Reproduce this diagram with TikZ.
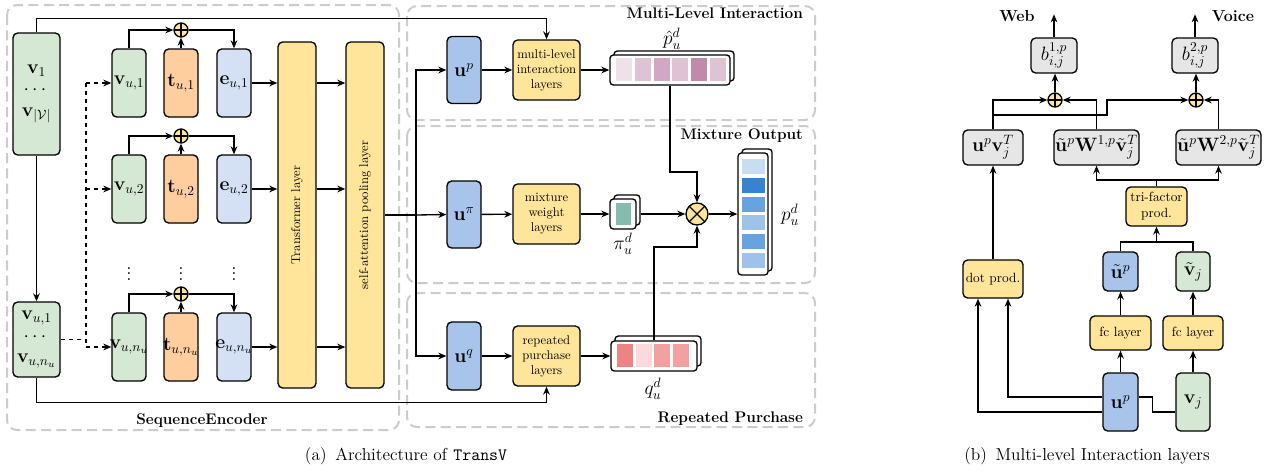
\RequirePackage{fix-cm}
\documentclass[tikz,border=0pt]{standalone}
\usepackage{amsmath,amssymb}
\usetikzlibrary{arrows.meta}

\definecolor{cgreen}{HTML}{D5E8D4}
\definecolor{corange}{HTML}{FFCE9F}
\definecolor{clblue}{HTML}{D4E1F5}
\definecolor{cyellow}{HTML}{FFE599}
\definecolor{cblue}{HTML}{A9C4EB}
\definecolor{cgray}{HTML}{E6E6E6}
\definecolor{cframe}{HTML}{CCCCCC}
% cell colours
\definecolor{pk1}{HTML}{EFE1EA}
\definecolor{pk2}{HTML}{DFC2D4}
\definecolor{pk3}{HTML}{D2A7C1}
\definecolor{pk4}{HTML}{C18AAB}
\definecolor{tl1}{HTML}{86BBB0}
\definecolor{bl1}{HTML}{C7DEF2}
\definecolor{bl2}{HTML}{3584D4}
\definecolor{bl3}{HTML}{66A3E0}
\definecolor{bl4}{HTML}{9DC3EB}
\definecolor{rd1}{HTML}{EE8383}
\definecolor{rd2}{HTML}{FBDADB}
\definecolor{rd3}{HTML}{F2A1A1}

\tikzset{
  blk/.style={draw, line width=1pt, rounded corners=3.5pt, align=center, inner sep=0pt,
    font=\fontsize{14.5}{16}\selectfont},
  lyr/.style={blk, fill=cyellow, font=\fontsize{9.5}{11.3}\selectfont},
  lyrb/.style={lyr, font=\fontsize{10}{12}\selectfont},
  stk/.style={draw, fill=white, line width=1pt, rounded corners=2.5pt, inner sep=0pt},
  grp/.style={draw=cframe, line width=1.5pt, dash pattern=on 7.5pt off 4pt, rounded corners=7.5pt},
  ttl/.style={font=\fontsize{11.5}{13}\selectfont\bfseries},
  lbl/.style={font=\fontsize{14.5}{16}\selectfont},
  sumop/.style={circle, draw, fill=cyellow, minimum size=10.5pt, inner sep=0pt,
    path picture={\draw (path picture bounding box.north) -- (path picture bounding box.south)
      (path picture bounding box.west) -- (path picture bounding box.east);}},
  mulop/.style={circle, draw, fill=cyellow, minimum size=16.5pt, inner sep=0pt,
    path picture={\draw (path picture bounding box.north west) -- (path picture bounding box.south east)
      (path picture bounding box.north east) -- (path picture bounding box.south west);}},
}

\begin{document}
\begin{tikzpicture}[x=0.75pt, y=-0.75pt, line width=1pt, >={Stealth[length=6pt,width=5pt]}]
  \useasboundingbox (0,0) rectangle (1269,472);
  % group frames
  \draw[grp] (7,5) rectangle (399,430);
  \draw[grp] (407,6) rectangle (815,120);
  \draw[grp] (407,126) rectangle (815,283);
  \draw[grp] (407,293) rectangle (815,427);
  \node[ttl, anchor=base] at (202,424) {SequenceEncoder};
  \node[ttl, anchor=base east] at (808,18) {Multi-Level Interaction};
  \node[ttl, anchor=base east] at (808,139) {Mixture Output};
  \node[ttl, anchor=base east] at (808,422) {Repeated Purchase};

  % sequence encoder
  \node[blk, fill=cgreen, minimum width=35.25pt, minimum height=91.5pt] (vall) at (36.5,94)
    {$\mathbf{v}_1$\\$\cdots$\\$\mathbf{v}_{|\mathcal{V}|}$};
  \node[blk, fill=cgreen, minimum width=35.25pt, minimum height=56.25pt] (vseq) at (36.5,339.5)
    {$\mathbf{v}_{u,1}$\\$\cdots$\\$\mathbf{v}_{u,n_u}$};
  \node[lyr, minimum width=28.5pt, minimum height=259.5pt] (tfm) at (297,215) {};
  \node[rotate=90, font=\fontsize{9.5}{11}\selectfont] at (tfm.center) {Transformer layer};
  \node[lyr, minimum width=28.5pt, minimum height=259.5pt] (pool) at (365,215) {};
  \node[rotate=90, font=\fontsize{9.5}{11}\selectfont] at (pool.center) {self-attention pooling layer};

  \foreach \r/\y/\s in {1/83/1, 2/189/2, 3/347/n_u} {
    \node[blk, fill=cgreen, minimum width=25.5pt, minimum height=51pt] (v\r) at (129,\y) {\makebox[0pt]{$\mathbf{v}_{u,\s}$}};
    \node[blk, fill=corange, minimum width=25.5pt, minimum height=51pt] (t\r) at (181,\y) {\makebox[0pt]{$\mathbf{t}_{u,\s}$}};
    \node[blk, fill=clblue, minimum width=25.5pt, minimum height=51pt] (e\r) at (234,\y) {\makebox[0pt]{$\mathbf{e}_{u,\s}$}};
    \node[sumop] (s\r) at (181,\y-53) {};
    \draw[->] (v\r.north) |- (s\r.west);
    \draw[->] (t\r.north) -- (s\r.south);
    \draw[->] (s\r.east) -| (e\r.north);
    \draw[->] (e\r.east) -- (tfm.west |- e\r.east);
    \draw[->] (tfm.east |- e\r.east) -- (pool.west |- e\r.east);
  }
  \node[lbl] at (129,270) {$\vdots$};
  \node[lbl] at (181,270) {$\vdots$};
  \node[lbl] at (234,270) {$\vdots$};

  \draw[->] (vall.south) -- (vseq.north);
  \coordinate (dv) at (86,339.5);
  \draw[dashed] (vseq.east) -- (dv);
  \draw[dashed] (dv |- v1.west) -- (dv |- v3.west);
  \draw[dashed,->] (dv |- v1.west) -- (v1.west);
  \draw[dashed,->] (dv |- v2.west) -- (v2.west);
  \draw[dashed,->] (dv |- v3.west) -- (v3.west);

  % heads
  \node[blk, fill=cblue, minimum width=25.5pt, minimum height=50.25pt] (up) at (464,70) {$\mathbf{u}^p$};
  \node[blk, fill=cblue, minimum width=25.5pt, minimum height=50.25pt] (upi) at (464,214.5) {$\mathbf{u}^\pi$};
  \node[blk, fill=cblue, minimum width=25.5pt, minimum height=51pt] (uq) at (464,356) {$\mathbf{u}^q$};
  \node[lyr, minimum width=50.25pt, minimum height=45pt] (mli) at (546.5,70) {multi-level\\interaction\\layers};
  \node[lyr, minimum width=50.25pt, minimum height=45pt] (mwl) at (546.5,214) {mixture\\weight\\layers};
  \node[lyr, minimum width=50.25pt, minimum height=45pt] (rpl) at (546.5,356) {repeated\\purchase\\layers};

  \coordinate (split) at (416,215);
  \draw (pool.east) -- (split);
  \draw[->] (split) -- (upi.west);
  \draw[->] (split) |- (up.west);
  \draw[->] (split) |- (uq.west);
  \draw[->] (vall.north) -- ++(0,-14) -| (mli.north);
  \draw[->] (vseq.south) -- ++(0,25) -| (rpl.south);
  \draw[->] (up) -- (mli);
  \draw[->] (upi) -- (mwl);
  \draw[->] (uq) -- (rpl);

  % score stacks
  \node[stk, minimum width=90pt, minimum height=22.5pt] (phatb) at (674,66) {};
  \node[stk, minimum width=90pt, minimum height=22.5pt] (phat) at (670,70) {};
  \foreach \c [count=\i from 0] in {pk1,pk2,pk3,pk2,pk4,pk2}
    \fill[\c] (616+18.8*\i,58) rectangle ++(16,23);
  \node[stk, minimum width=19.5pt, minimum height=22.5pt] (pib) at (627,210) {};
  \node[stk, minimum width=19.5pt, minimum height=22.5pt] (pi) at (623,214) {};
  \fill[tl1] (616,203) rectangle (631,225);
  \node[stk, minimum width=64.5pt, minimum height=22.5pt] (qb) at (658,351) {};
  \node[stk, minimum width=64.5pt, minimum height=22.5pt] (q) at (654,356) {};
  \foreach \c [count=\i from 0] in {rd1,rd2,rd3,rd3}
    \fill[\c] (617+18.7*\i,344) rectangle ++(16,23);
  \node[stk, minimum width=22.5pt, minimum height=91.5pt] (poutb) at (757,210) {};
  \node[stk, minimum width=22.5pt, minimum height=91.5pt] (pout) at (753,214) {};
  \foreach \c [count=\i from 0] in {bl1,bl2,bl3,bl4,bl3,bl4}
    \fill[\c] (742,159+18.8*\i) rectangle ++(23,15);

  \node[lbl] at (672,39) {$\hat{p}_u^d$};
  \node[lbl] at (623,244) {$\pi_u^d$};
  \node[lbl] at (790,215) {$p_u^d$};
  \node[lbl] at (653,389) {$q_u^d$};

  \draw[->] (mli) -- (phat);
  \draw[->] (mwl) -- (pi);
  \draw[->] (rpl) -- (q);
  \node[mulop] (mix) at (697,214) {};
  \coordinate (pbend) at (670,172);
  \coordinate (qbend) at (654,247);
  \draw[->] (phat.south) -- (pbend) -| (mix.north);
  \draw[->] (q.north) -- (qbend) -| (mix.south);
  \draw[->] (pib.east |- pi.east) -- (mix.west);
  \draw[->] (mix.east) -- (pout.west |- mix.east);

  % multi-level interaction layers
  \node[blk, fill=cgray, minimum width=34.5pt, minimum height=26.25pt] (b1) at (1054,55.5) {$b^{1,p}_{i,j}$};
  \node[blk, fill=cgray, minimum width=34.5pt, minimum height=26.25pt] (b2) at (1195,55.5) {$b^{2,p}_{i,j}$};
  \node[ttl, font=\fontsize{12}{14}\selectfont\bfseries, anchor=base] at (1017,21) {Web};
  \node[ttl, font=\fontsize{12}{14}\selectfont\bfseries, anchor=base] at (1233,21) {Voice};
  \draw[->] (b1.north) -- ++(0,-23);
  \draw[->] (b2.north) -- ++(0,-23);
  \node[sumop] (o1) at (1055,100) {};
  \node[sumop] (o2) at (1196,100) {};
  \draw[->] (o1.north) -- (o1.north |- b1.south);
  \draw[->] (o2.north) -- (o2.north |- b2.south);

  \node[blk, fill=cgray, minimum width=45pt, minimum height=26.25pt] (uv) at (993,147.5) {$\mathbf{u}^p\mathbf{v}_j^T$};
  \node[blk, fill=cgray, minimum width=63.75pt, minimum height=26.25pt] (w1) at (1096.5,147.5)
    {$\tilde{\mathbf{u}}^p\mathbf{W}^{1,p}\tilde{\mathbf{v}}_j^T$};
  \node[blk, fill=cgray, minimum width=63.75pt, minimum height=26.25pt] (w2) at (1218.5,147.5)
    {$\tilde{\mathbf{u}}^p\mathbf{W}^{2,p}\tilde{\mathbf{v}}_j^T$};
  \coordinate (cross) at (1107,115);
  \draw[->] (uv.north) |- (o1.west);
  \draw[->] (uv.north |- cross) -- (cross) |- (o2.west);
  \draw[->] (w1.north) |- (o1.east);
  \draw[->] (w2.north) |- (o2.east);

  \node[lyrb, minimum width=45.75pt, minimum height=29.25pt] (tri) at (1156.5,206.5) {tri-factor\\prod.};
  \coordinate (tsplit) at (1156.5,180);
  \draw (tri.north) -- (tsplit);
  \draw[->] (tsplit) -| (w1.south);
  \draw[->] (tsplit) -| (w2.south);

  \node[lyrb, minimum width=45pt, minimum height=28.5pt] (dotp) at (993,279) {dot prod.};
  \node[blk, fill=cblue, minimum width=26.25pt, minimum height=29.25pt] (ut) at (1120.5,271.5) {$\tilde{\mathbf{u}}^p$};
  \node[blk, fill=cgreen, minimum width=25.5pt, minimum height=29.25pt] (vt) at (1193,271.5) {$\tilde{\mathbf{v}}_j$};
  \node[lyrb, minimum width=45.75pt, minimum height=25.5pt] (fc1) at (1120.5,333) {fc layer};
  \node[lyrb, minimum width=45pt, minimum height=25.5pt] (fc2) at (1193,333) {fc layer};
  \node[blk, fill=cblue, minimum width=26.25pt, minimum height=43.5pt] (upb) at (1120.5,402) {$\mathbf{u}^p$};
  \node[blk, fill=cgreen, minimum width=25.5pt, minimum height=43.5pt] (vj) at (1193,402) {$\mathbf{v}_j$};

  \coordinate (tjoin) at (1156.5,242);
  \draw (ut.north) |- (tjoin) -| (vt.north);
  \draw[->] (tjoin) -- (tri.south);
  \draw[->] (fc1) -- (ut);
  \draw[->] (fc2) -- (vt);
  \draw[->] (upb) -- (fc1);
  \draw[->] (vj) -- (fc2);
  \draw[->] (dotp) -- (uv);
  \draw[->] ([yshift=3.75pt]upb.west) -| ([xshift=11.25pt]dotp.south);
  \draw[->] ([yshift=-7.5pt]upb.west) -| ([xshift=-11.25pt]dotp.south);
  \draw ([yshift=-7.5pt]vj.west) -- ++(-23,0) |- ([yshift=3.75pt]upb.east);

  % captions
  \node[font=\fontsize{13}{15}\selectfont, anchor=base] at (406,460) {(a)\enspace Architecture of \texttt{TransV}};
  \node[font=\fontsize{13}{15}\selectfont, anchor=base] at (1087,460) {(b)\enspace Multi-level Interaction layers};
\end{tikzpicture}
\end{document}
